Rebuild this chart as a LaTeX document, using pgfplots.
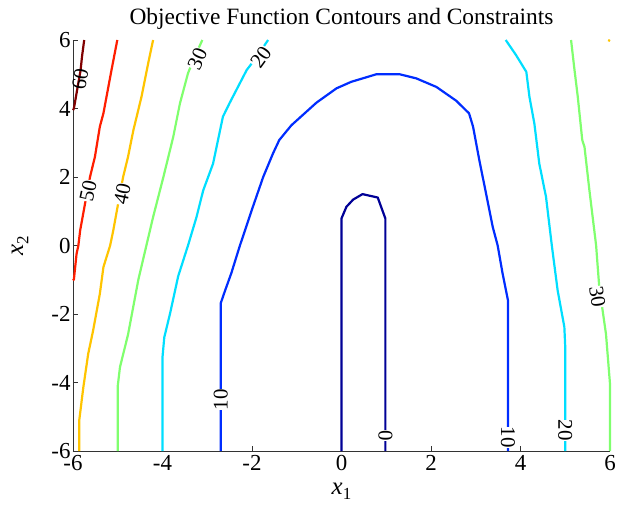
\documentclass[border=0pt]{standalone}
\usepackage{fontspec}
\setmainfont{Liberation Serif}
\usepackage{pgfplots}
\pgfplotsset{compat=1.18}

% jet-like contour colours, levels 0 ... 60
\definecolor{c0}{RGB}{0,0,150}
\definecolor{c10}{RGB}{0,45,255}
\definecolor{c20}{RGB}{0,222,255}
\definecolor{c30}{RGB}{128,255,110}
\definecolor{c40}{RGB}{255,196,0}
\definecolor{c50}{RGB}{255,30,0}
\definecolor{c60}{RGB}{128,0,0}

\tikzset{clab/.style={font=\fontsize{21}{21}\selectfont, fill=white, inner sep=0.3pt}}

\begin{document}
\begin{tikzpicture}
\path[use as bounding box] (-73bp,-65bp) rectangle (554bp,451bp);
\begin{axis}[
  scale only axis,
  width=537bp, height=411bp,
  xmin=-6, xmax=6, ymin=-6, ymax=6,
  axis x line=bottom, axis y line=left,
  axis line style={-, black!80, line width=0.6bp},
  tick align=inside, major tick length=5bp,
  tick style={black!80, line width=0.6bp},
  xtick={-6,-4,...,6}, ytick={-6,-4,...,6},
  xticklabels={-6,-4,-2,0,2,4,6},
  yticklabels={-6,-4,-2,0,2,4,6},
  ticklabel style={font=\fontsize{23}{23}\selectfont},
  xticklabel style={yshift=-1bp},
  yticklabel style={xshift=1bp},
  title={Objective Function Contours and Constraints},
  title style={font=\fontsize{23.5}{23.5}\selectfont, at={(0.5,1)}, anchor=base, yshift=10bp},
  xlabel={\itshape x\raisebox{-0.45ex}{\upshape\fontsize{17}{17}\selectfont 1}},
  ylabel={\itshape x\raisebox{-0.45ex}{\upshape\fontsize{17}{17}\selectfont 2}},
  label style={font=\fontsize{25}{25}\selectfont},
  xlabel style={at={(axis description cs:0.5,0)}, anchor=center, yshift=-40bp},
  ylabel style={at={(axis description cs:-0.0987,0.5)}, anchor=center},
  clip=false,
  every axis plot/.append style={line width=2.2bp, line join=round},
]
% level 60
\addplot[c60] coordinates {(-5.75,6) (-5.80,5.5) (-5.83,5.12) (-5.90,4.6) (-5.98,4.0) (-6,3.95)};
% level 50
\addplot[c50] coordinates {(-5.01,6) (-5.14,5.12) (-5.32,3.86) (-5.40,3.47) (-5.51,2.59)
  (-5.62,2.0) (-5.73,1.23) (-5.84,0.44) (-5.88,0) (-5.92,-0.24) (-5.98,-0.99) (-6,-1.02)};
% level 40
\addplot[c40] coordinates {(-4.21,6) (-4.32,5.32) (-4.47,4.34) (-4.65,3.37) (-4.77,2.59)
  (-4.88,2.0) (-4.99,1.23) (-5.10,0.44) (-5.17,0) (-5.32,-0.63) (-5.40,-1.41) (-5.55,-2.48)
  (-5.66,-3.16) (-5.77,-4.15) (-5.86,-5.1) (-5.86,-6)};
\addplot[c40] coordinates {(5.96,6) (6,5.97)};
% level 30
\addplot[c30] coordinates {(-3.11,6) (-3.30,5.45) (-3.43,5.03) (-3.61,4.15) (-3.76,3.17)
  (-3.98,2.0) (-4.21,0.83) (-4.36,0) (-4.54,-1.0) (-4.77,-2.6) (-4.95,-3.55) (-5.0,-4.1) (-5.0,-6)};
\addplot[c30] coordinates {(5.13,6) (5.20,5.2) (5.28,4.34) (5.38,3.08) (5.43,2.88) (5.54,1.61)
  (5.69,0) (5.72,-0.53) (5.76,-1.21) (5.91,-2.58) (6.0,-4.04) (6.0,-6)};
% level 20
\addplot[c20] coordinates {(-1.64,6) (-1.90,5.5) (-2.12,5.12) (-2.50,4.16) (-2.65,3.76)
  (-2.87,2.39) (-3.09,1.61) (-3.24,0.83) (-3.43,0) (-3.65,-0.9) (-3.83,-1.98) (-3.96,-2.68)
  (-4.0,-3.26) (-4.0,-6)};
\addplot[c20] coordinates {(3.67,6) (3.90,5.56) (4.13,5.07) (4.20,4.34) (4.31,3.56) (4.42,2.39)
  (4.57,1.42) (4.70,0) (4.83,-1.31) (4.98,-2.38) (5.0,-2.97) (5.0,-6)};
% level 10
\addplot[c10] coordinates {(-2.70,-6) (-2.70,-1.69) (-2.60,-1.31) (-2.46,-0.8) (-2.27,0)
  (-1.98,1.13) (-1.75,2.0) (-1.53,2.69) (-1.39,3.08) (-1.12,3.51) (-0.56,4.17) (-0.11,4.59)
  (0.22,4.78) (0.78,5.0) (1.30,5.0) (1.67,4.88) (2.12,4.63) (2.56,4.23) (2.85,3.86)
  (2.94,3.47) (3.08,2.49) (3.23,1.52) (3.38,0.54) (3.49,0) (3.60,-0.82) (3.72,-1.6) (3.72,-6)};
% level 0
\addplot[c0] coordinates {(0,-6) (0,0.79) (0.11,1.13) (0.26,1.34) (0.47,1.5) (0.81,1.4)
  (0.98,0.79) (0.98,-6)};

% contour labels
\node[clab, rotate=80, fill=none] at (axis cs:-5.84,4.85) {60};
\node[clab, rotate=78] at (axis cs:-5.66,1.6) {50};
\node[clab, rotate=78] at (axis cs:-4.90,1.5) {40};
\node[clab, rotate=66] at (axis cs:-3.22,5.45) {30};
\node[clab, rotate=54] at (axis cs:-1.80,5.5) {20};
\node[clab, rotate=90] at (axis cs:-2.70,-4.5) {10};
\node[clab, rotate=-90] at (axis cs:0.98,-5.55) {0};
\node[clab, rotate=-90] at (axis cs:3.72,-5.6) {10};
\node[clab, rotate=-90] at (axis cs:5.0,-5.4) {20};
\node[clab, rotate=-82] at (axis cs:5.72,-1.5) {30};
\end{axis}
\end{tikzpicture}
\end{document}
